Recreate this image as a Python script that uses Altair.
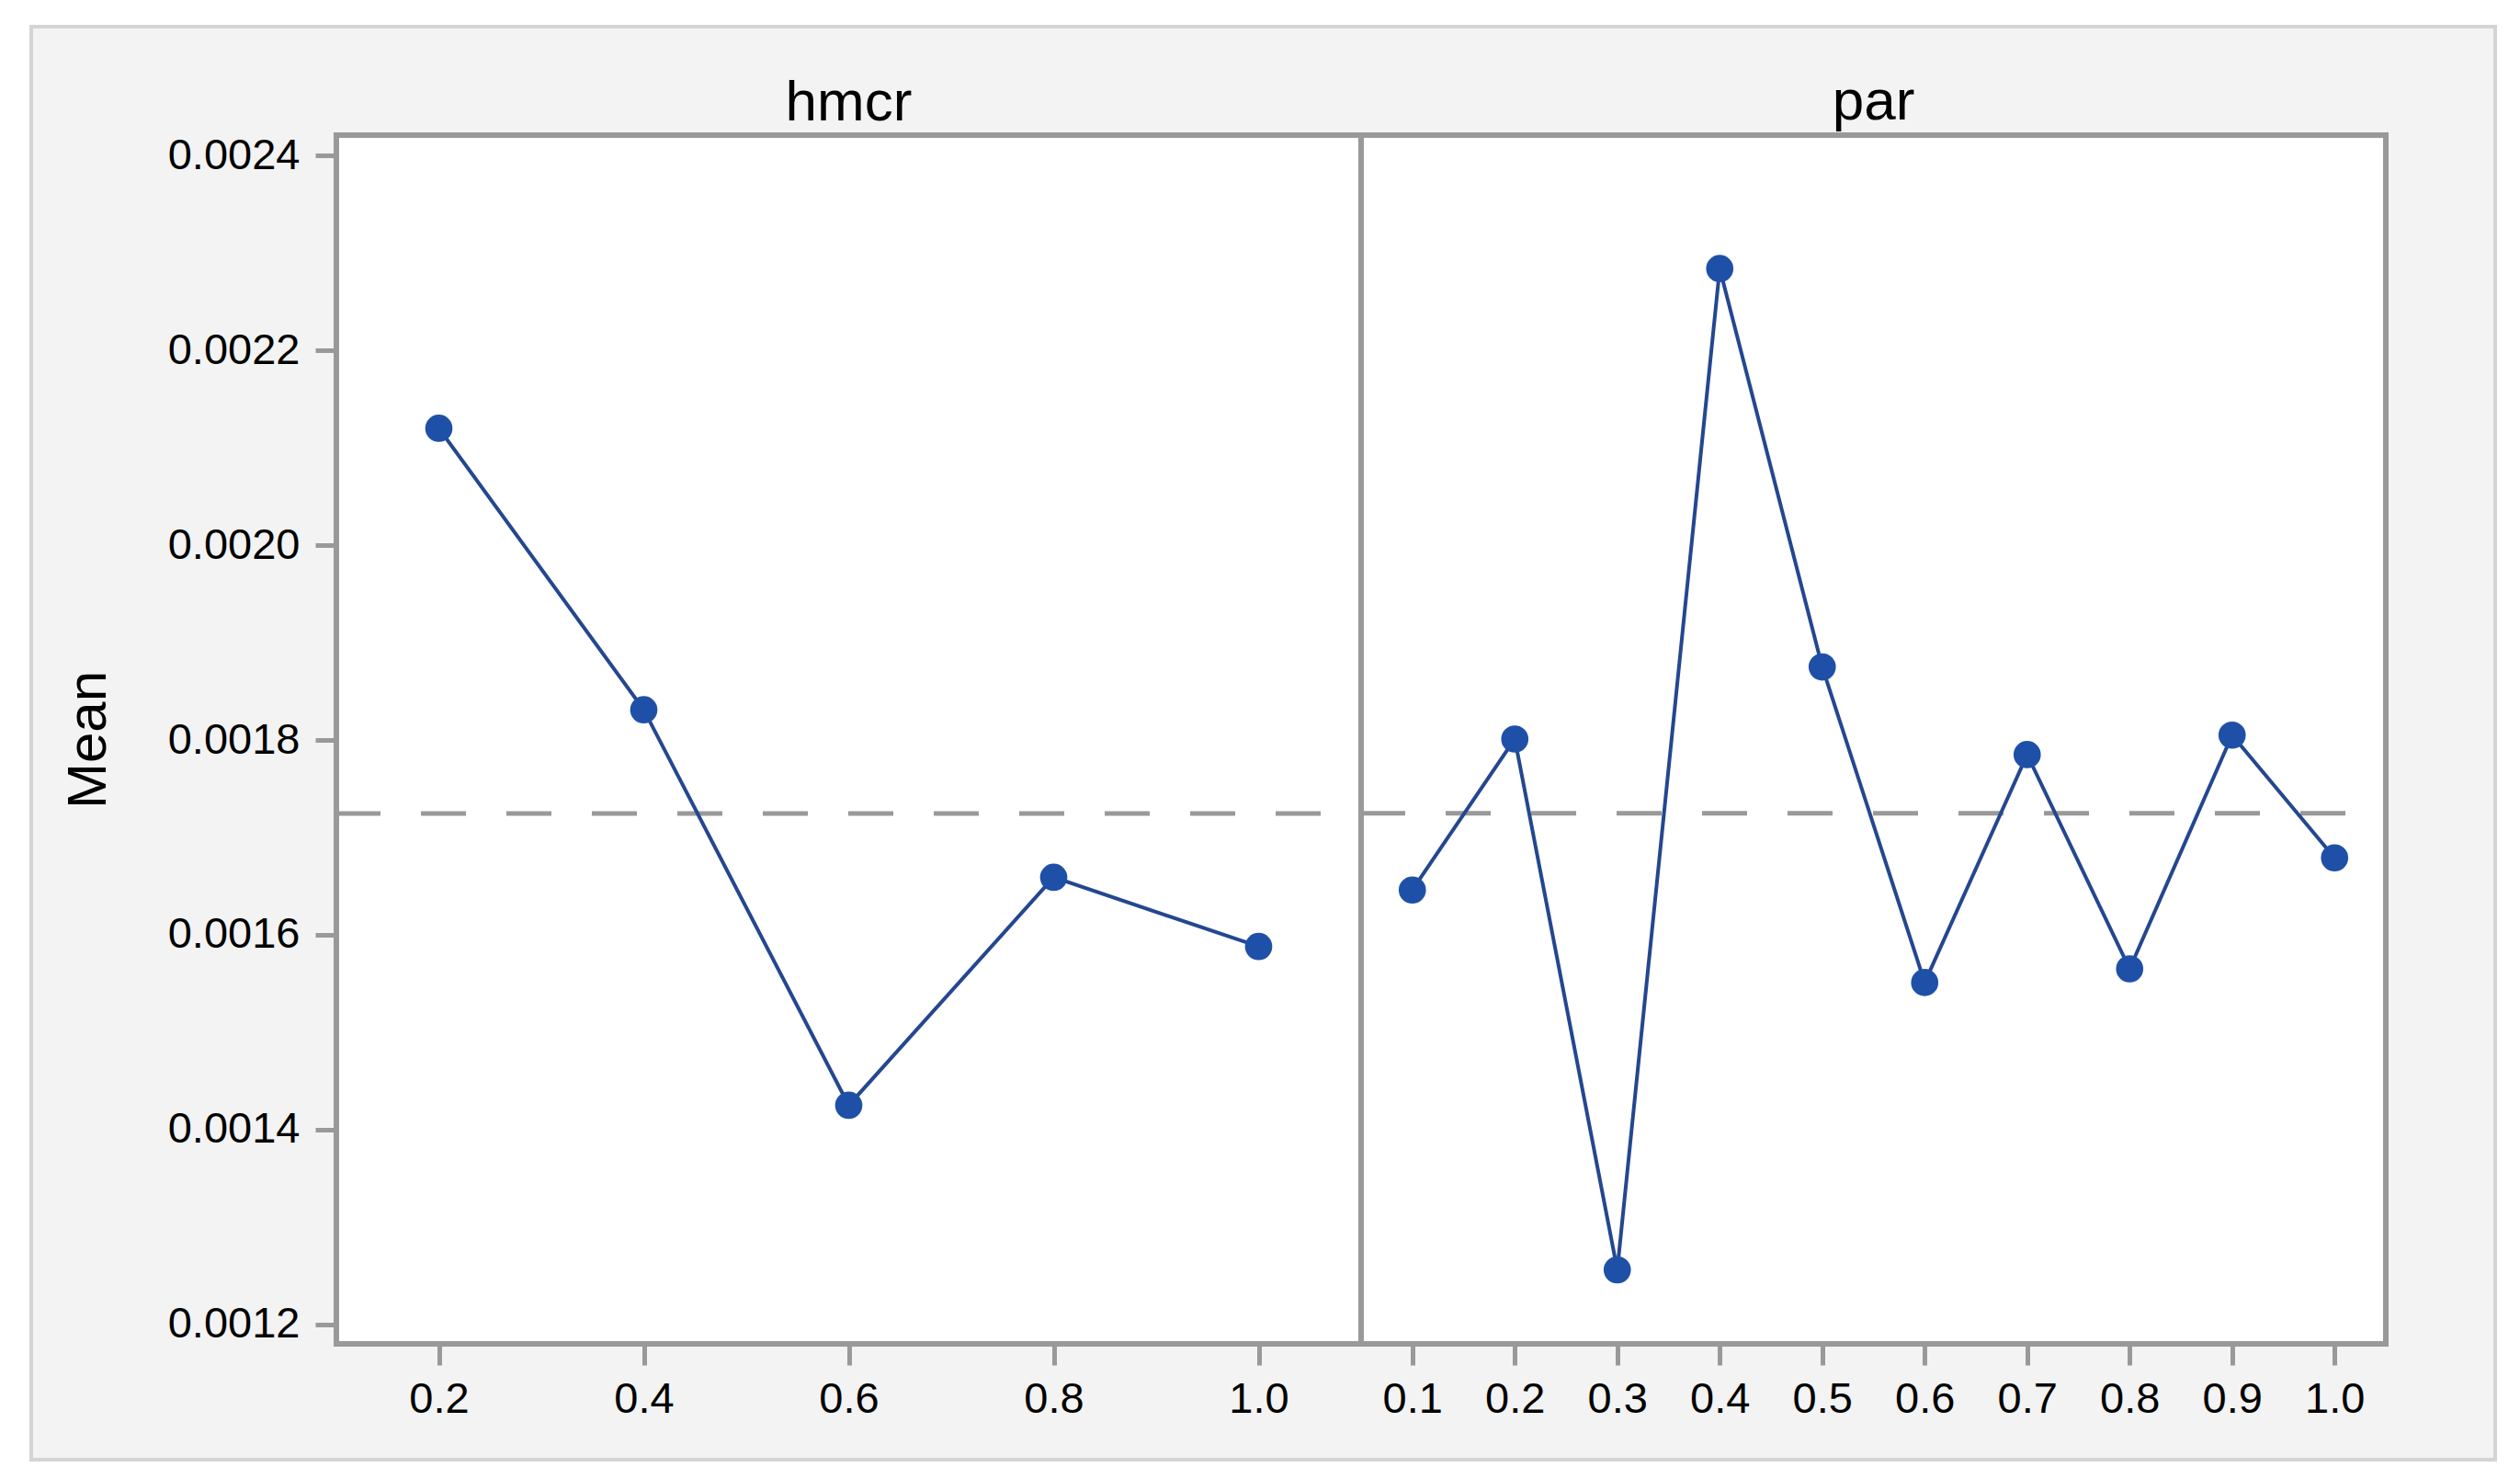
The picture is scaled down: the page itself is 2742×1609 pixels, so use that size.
import altair as alt
import pandas as pd

# ---- data ----
hmcr_levels = ["0.2", "0.4", "0.6", "0.8", "1.0"]
hmcr_means = [0.002120, 0.001831, 0.001425, 0.001659, 0.001588]

par_levels = ["0.1", "0.2", "0.3", "0.4", "0.5", "0.6", "0.7", "0.8", "0.9", "1.0"]
par_means = [0.001646, 0.001801, 0.001256, 0.002284, 0.001875,
             0.001551, 0.001785, 0.001565, 0.001805, 0.001679]

y_ticks = [0.0012, 0.0014, 0.0016, 0.0018, 0.0020, 0.0022, 0.0024]
y_domain = [0.00118, 0.002421]

W, H = 1115, 1315
FONT = "Liberation Sans"
LINE_C = "#24478f"
PT_C = "#1f50a8"
FRAME_C = "#999999"

hmcr_df = pd.DataFrame({"level": hmcr_levels, "mean": hmcr_means})
par_df = pd.DataFrame({"level": par_levels, "mean": par_means})


def panel(df, levels, title, left):
    xenc = alt.X("level:O", sort=levels,
                 scale=alt.Scale(type="point", padding=0.5),
                 axis=alt.Axis(title=None, labelAngle=0, zindex=1, labelPadding=14))
    if left:
        yaxis = alt.Axis(values=y_ticks, format=".4f", title="Mean",
                         titleFontSize=60, titleFont=FONT, titleFontWeight="normal",
                         titleColor="black", titlePadding=55, zindex=1)
    else:
        yaxis = None
    yscale = alt.Scale(domain=y_domain, zero=False, nice=False)
    yenc = alt.Y("mean:Q", scale=yscale, axis=yaxis)

    base = alt.Chart(df)
    rule = base.mark_rule(color=FRAME_C, strokeWidth=5, strokeDash=[49, 44],
                          strokeDashOffset=49).encode(
        y=alt.Y("mean(mean):Q", scale=yscale, axis=yaxis)
    )
    line = base.mark_line(color=LINE_C, strokeWidth=4).encode(x=xenc, y=yenc)
    pts = base.mark_circle(color=PT_C, size=880, opacity=1).encode(x=xenc, y=yenc)

    layers = [rule, line, pts]
    title_offset = 4
    if left:
        # light-grey page panel behind both plots, then the white framed plot area
        bg = base.mark_rect(fill="#f3f3f3", stroke="#d4d4d4", strokeWidth=4).encode(
            x=alt.value(-332), x2=alt.value(2349), y=alt.value(-118), y2=alt.value(1441)
        )
        frame = base.mark_rect(fill="white", stroke=FRAME_C, strokeWidth=6).encode(
            x=alt.value(0), x2=alt.value(W), y=alt.value(0), y2=alt.value(H)
        )
        layers = [bg, frame] + layers
        title_offset = -117

    return alt.layer(*layers).properties(
        width=W, height=H,
        title=alt.TitleParams(title, fontSize=62, font=FONT, fontWeight="normal",
                              color="black", anchor="middle", frame="group",
                              offset=title_offset, zindex=1),
    )


left = panel(hmcr_df, hmcr_levels, "hmcr", True)
right = panel(par_df, par_levels, "par", False)

chart = alt.hconcat(left, right, spacing=0, bounds="flush").properties(
    padding={"left": 21, "top": 16, "right": 0, "bottom": 0},
    background="white",
).configure_view(
    fill="white", stroke=FRAME_C, strokeWidth=6
).configure_axis(
    labelFont=FONT, labelFontSize=47, labelColor="black",
    tickColor=FRAME_C, tickWidth=5, tickSize=23, labelPadding=17,
    domain=False, grid=False,
)

chart.save("out.html", embed_options={"renderer": "svg", "actions": False})
